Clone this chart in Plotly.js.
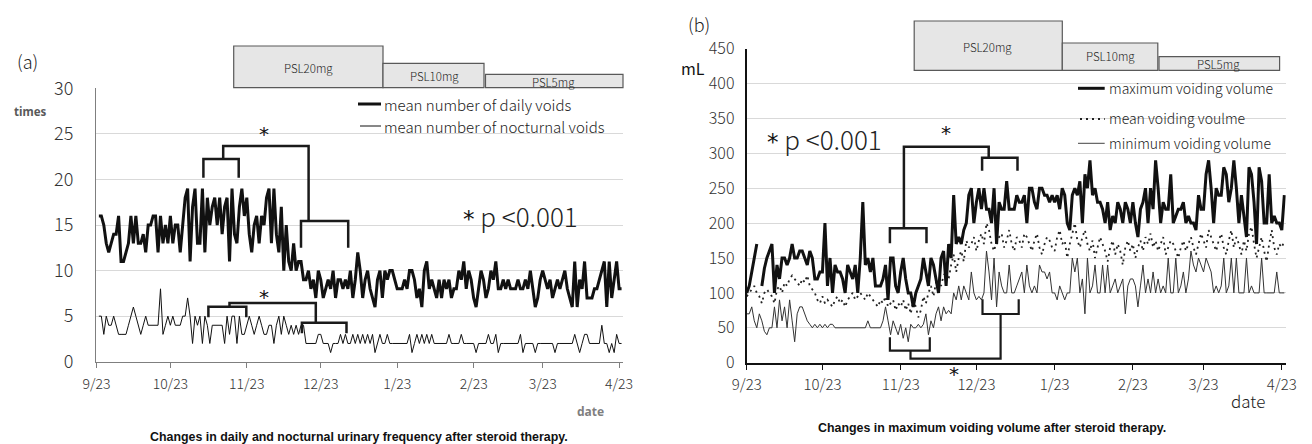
<!DOCTYPE html>
<html><head><meta charset="utf-8">
<script src="https://cdn.plot.ly/plotly-3.0.1.min.js"></script>
<style>html,body{margin:0;padding:0;background:#fff;}#chart{width:1312px;height:444px;}</style>
</head><body><div id="chart"></div>
<script>
// ---------- data ----------
const startLeft = '2021-09-24';   // first day of the left-panel series
const startRight = '2021-09-23';  // first day of the right-panel series
const tickDates = ['2021-09-23','2021-10-23','2021-11-23','2021-12-23','2022-01-23','2022-02-23','2022-03-23','2022-04-23'];
const tickLabels = ['9/23','10/23','11/23','12/23','1/23','2/23','3/23','4/23'];

const dailyVoids = [
16,16,15,13,12,13,14,14,16,11, 11,12,13,16,13,16,13,13,14,12, 15,15,16,16,12,16,13,15,13,16,
13,15,15,12,15,18,19,11,17,19, 13,13,19,12,18,15,17,18,15,18, 14,17,18,11,19,14,13,17,19,16,
18,14,12,15,16,13,16,15,18,19, 13,19,14,12,17,10,15,11,10,13, 10,11,11,9,9,10,8,9,7,10,
9,7,8,9,8,10,7,9,9,8,
9,8,10,7,9,12,10,7,9,10, 8,7,6,9,10,7,10,9,10,10, 9,8,8,8,9,8,10,10,9,7,
8,6,10,11,8,9,8,7,9,7, 9,8,9,7,8,8,10,9,11,8, 10,9,7,6,8,10,9,7,8,10,
9,11,8,8,9,8,9,8,8,8, 9,8,8,9,8,10,8,6,7,9, 10,9,8,9,7,8,9,8,9,10,
8,7,6,11,6,9,8,11,7,7, 7,8,8,9,10,11,6,11,7,9, 11,8,8];

const nocturnalVoids = [
5,5,3,5,4,4,5,4,3,3, 3,3,4,5,6,5,4,3,4,5, 4,4,4,4,4,8,3,4,5,4,
5,4,4,4,5,5,7,5,2,5, 4,5,2,5,4,2,4,4,4,4, 4,2,5,3,5,5,2,5,3,3,
4,5,4,3,4,5,4,3,3,4, 4,2,4,5,3,5,4,3,4,3, 4,3,4,4,
2,2,2,2,2,3,3,2,2,2, 1,2,2,2,3,2,3,2,2,3, 2,3,2,3,2,3,2,3,1,2,
3,2,2,3,2,2,2,2,2,2, 2,2,3,1,2,3,2,3,2,3, 2,3,2,2,2,2,2,2,3,2,
2,2,2,3,2,2,2,2,2,1, 2,2,2,2,3,2,2,3,1,2, 2,2,2,2,2,2,2,3,1,2,
2,2,2,1,2,2,2,2,2,2, 2,1,2,2,2,2,2,2,2,3, 2,1,2,3,3,2,2,2,2,2,
4,2,2,1,2,1,3,2,2];

const maxVolume = [
100,110,130,150,170,null,110,135,150,160, 170,100,140,120,150,150,140,150,170,150,
150,160,160,150,140,160,150,120,120,130, 130,200,110,150,100,140,130,130,120,100,
140,130,120,140,100,150,230,140,150,130, 150,110,110,110,120,140,90,150,150,110,
100,130,150,120,100,100,80,100,110,120, 150,130,110,150,140,120,100,150,160,110,
170,150,240,170,180,170,190,200,240,250, 200,230,250,220,250,220,220,200,250,170,
230,220,220,260,220,220,220,240,230,230, 240,200,250,250,230,220,250,250,240,240,
230,240,230,240,220,250,240,200,190,240, 250,240,260,200,270,250,290,240,250,230,
230,220,200,230,190,210,200,230,220,200, 230,220,200,230,200,180,220,230,250,200,
250,220,290,250,200,230,220,220,270,200, 210,220,220,230,200,210,200,200,190,240,
220,220,270,290,250,200,250,240,240,280, 270,230,250,290,250,200,240,210,180,280,
270,230,170,280,260,200,200,270,200,210, 200,200,190,240];

const meanVolume = [
95,100,105,110,100,95,85,100,105,100, 95,85,105,110,100,115,110,120,125,120,
115,110,120,115,125,110,105,100,90,85, 95,85,90,85,80,90,95,85,90,80,
90,95,100,90,95,100,95,90,100,95, 90,85,80,90,85,95,80,85,90,75,
85,80,90,75,85,70,90,80,65,75, 95,85,100,110,95,115,120,110,125,130,
120,140,155,130,150,160,145,175,165,170, 180,160,175,185,170,200,190,170,160,175,
180,185,165,175,190,170,160,180,175,165, 185,180,170,160,175,185,165,155,170,180,
175,165,160,180,190,170,175,150,170,185, 200,175,165,180,190,170,160,175,150,165,
180,170,160,145,165,175,155,170,160,140, 165,175,160,170,150,165,175,160,180,170,
185,165,175,160,170,180,155,165,175,170, 160,150,165,175,160,170,180,165,155,170,
185,175,165,190,180,170,160,175,185,165, 155,175,190,165,180,170,155,175,160,185,
195,170,150,165,180,160,145,170,190,165, 155,170,165,175];

const minVolume = [
70,70,80,60,50,70,60,45,40,50, 50,80,50,90,60,80,50,90,60,30,
70,80,80,70,60,55,50,55,50,55, 50,55,50,55,55,50,50,50,50,50,
50,50,50,50,50,50,50,50,60,50, 50,50,50,50,60,80,60,40,60,50,
40,55,35,50,30,55,50,50,55,50, 55,70,40,60,50,70,80,60,80,70,
75,70,100,90,110,90,110,100,90,130, 100,90,95,90,100,160,130,90,150,80,
130,110,100,100,140,100,100,110,120,130, 100,140,110,100,110,100,140,130,130,120,
130,100,100,90,110,100,90,100,100,150, 130,150,100,120,70,150,100,110,140,100,
100,140,100,140,100,110,120,100,110,120, 70,110,120,120,110,80,110,140,100,120,
100,130,100,120,100,110,100,150,100,100, 150,100,110,130,100,120,160,140,130,150,
140,130,150,140,130,100,110,100,110,150, 100,110,150,100,150,100,100,100,150,100,
110,100,100,100,150,100,100,100,100,100, 130,100,100,100];

// ---------- helpers (pixel -> paper) ----------
const W = 1312, H = 444;
const px = x => x / W;
const py = y => 1 - y / H;
const light = '"Noto Sans CJK JP", "Noto Sans", sans-serif';
const starFont = '"DejaVu Sans", "Noto Sans", sans-serif';
const DAY = 86400000;
const dotDash = '2px,4px';

function pathOf(pts) {
  return pts.map((p, i) => (i ? 'L ' : 'M ') + px(p[0]).toFixed(5) + ' ' + py(p[1]).toFixed(5)).join(' ');
}
function bracket(pts, w) {
  return {type: 'path', xref: 'paper', yref: 'paper', path: pathOf(pts),
          line: {color: '#1a1a1a', width: w || 2.5}, layer: 'above'};
}
function seg(x0, y0, x1, y1, w, color, dash) {
  return {type: 'line', xref: 'paper', yref: 'paper', x0: px(x0), y0: py(y0), x1: px(x1), y1: py(y1),
          line: {color: color || '#111', width: w, dash: dash || 'solid'}, layer: 'above'};
}
function box(x0, y0, x1, y1) {
  return {type: 'rect', xref: 'paper', yref: 'paper', x0: px(x0), y0: py(y1), x1: px(x1), y1: py(y0),
          fillcolor: '#e6e6e6', line: {color: '#595959', width: 1.2}, layer: 'above'};
}
function txt(x, y, text, size, opts) {
  opts = opts || {};
  return Object.assign({xref: 'paper', yref: 'paper', x: px(x), y: py(y), text: text, showarrow: false,
          xanchor: 'center', yanchor: 'middle',
          font: {family: opts.family || light, size: size, color: opts.color || '#222', weight: opts.weight || 300}},
          opts.extra || {});
}
const pText = '<span style="font-family:\'DejaVu Sans\';font-size:23px;color:#111;font-weight:400">*</span> p <0.001';

// ---------- traces ----------
const traces = [
  {type: 'scatter', mode: 'lines', x0: startLeft, dx: DAY, y: dailyVoids, xaxis: 'x', yaxis: 'y',
   line: {color: '#111', width: 3}, name: 'mean number of daily voids', showlegend: false},
  {type: 'scatter', mode: 'lines', x0: startLeft, dx: DAY, y: nocturnalVoids, xaxis: 'x', yaxis: 'y',
   line: {color: '#111', width: 1}, name: 'mean number of nocturnal voids', showlegend: false},
  {type: 'scatter', mode: 'lines', x0: startRight, dx: DAY, y: meanVolume, xaxis: 'x2', yaxis: 'y2',
   line: {color: '#222', width: 1.8, dash: dotDash}, name: 'mean voiding voulme', showlegend: false},
  {type: 'scatter', mode: 'lines', x0: startRight, dx: DAY, y: minVolume, xaxis: 'x2', yaxis: 'y2',
   line: {color: '#333', width: 1}, name: 'minimum voiding volume', showlegend: false},
  {type: 'scatter', mode: 'lines', x0: startRight, dx: DAY, y: maxVolume, xaxis: 'x2', yaxis: 'y2',
   line: {color: '#111', width: 3}, connectgaps: false, name: 'maximum voiding volume', showlegend: false}
];

const xCommon = {type: 'date', tickmode: 'array', tickvals: tickDates, ticktext: tickLabels,
  showgrid: false, zeroline: false, showline: true, ticks: 'outside', ticklen: 5, fixedrange: true};

const layout = {
  width: W, height: H, margin: {l: 0, r: 0, t: 0, b: 0}, paper_bgcolor: '#fff', plot_bgcolor: '#fff',
  showlegend: false,
  xaxis: Object.assign({}, xCommon, {domain: [px(96.4), px(623)], anchor: 'y',
    range: ['2021-09-23', '2022-04-24 14:00'], linecolor: '#7f7f7f', linewidth: 1.5, tickcolor: '#7f7f7f',
    tickfont: {family: light, size: 14, color: '#333', weight: 300}, ticklabelstandoff: 4}),
  yaxis: {domain: [1 - 361.7 / H, 1 - 88.4 / H], anchor: 'x', range: [0, 30], dtick: 5, tick0: 0,
    showgrid: true, gridcolor: '#d9d9d9', gridwidth: 1, zeroline: false, showline: true,
    linecolor: '#7f7f7f', linewidth: 1.5, ticks: '', ticklabelstandoff: 18,
    tickfont: {family: light, size: 18, color: '#333', weight: 300}, fixedrange: true},
  xaxis2: Object.assign({}, xCommon, {domain: [px(746.7), px(1285.8)], anchor: 'y2',
    range: ['2021-09-23', '2022-04-24 14:00'], linecolor: '#111', linewidth: 2, tickcolor: '#111',
    tickfont: {family: light, size: 15, color: '#333', weight: 300}, ticklabelstandoff: 2}),
  yaxis2: {domain: [1 - 362.7 / H, 1 - 48.6 / H], anchor: 'x2', range: [0, 450], dtick: 50, tick0: 0,
    showgrid: true, gridcolor: '#d9d9d9', gridwidth: 1, zeroline: false, showline: true,
    linecolor: '#111', linewidth: 2, ticks: '', ticklabelstandoff: 7,
    tickfont: {family: light, size: 16, color: '#333', weight: 300}, fixedrange: true},
  shapes: [
    // left: PSL boxes
    box(233.7, 46, 383, 87.7), box(383, 63.3, 484, 87.7), box(485.5, 74.3, 623, 87.7),
    // right: PSL boxes
    box(914.2, 21, 1062.3, 70.3), box(1062.3, 43, 1157.8, 70.3), box(1159, 56.7, 1279.6, 70.3),
    // left legend samples
    seg(358, 104, 381, 104, 3), seg(360, 126, 381, 126, 1),
    // right legend samples
    seg(1078, 88.3, 1104.7, 88.3, 3), seg(1080, 119, 1104.7, 119, 1.8, '#222', dotDash),
    seg(1078, 143.3, 1104.7, 143.3, 1, '#444'),
    // left daily-voids brackets
    bracket([[203.4,177.7],[203.4,159],[238.7,159],[238.7,177.7]]),
    bracket([[223.2,159],[223.2,146],[308.6,146],[308.6,221]]),
    bracket([[301,247.7],[301,221],[348.2,221],[348.2,247.7]]),
    // left nocturnal brackets
    bracket([[208.4,317.3],[208.4,306.7],[246.3,306.7],[246.3,317.3]]),
    bracket([[229.5,306.7],[229.5,303],[315.8,303],[315.8,322.7]]),
    bracket([[301.9,333.3],[301.9,322.7],[346.5,322.7],[346.5,333.3]]),
    // right maximum-volume brackets
    bracket([[903.9,228.3],[903.9,146.7],[988.7,146.7],[988.7,157.7]]),
    bracket([[889.9,243.3],[889.9,228.3],[926.5,228.3],[926.5,243.3]]),
    bracket([[982.1,170.7],[982.1,157.7],[1017.5,157.7],[1017.5,170.7]]),
    // right minimum-volume brackets
    bracket([[889.9,337.3],[889.9,350.7],[929.8,350.7],[929.8,337.3]], 2.2),
    bracket([[910.5,350.7],[910.5,358.7],[1000.6,358.7],[1000.6,314]], 2.2),
    bracket([[982.5,299.3],[982.5,314],[1018.7,314],[1018.7,299.3]], 2.2)
  ],
  annotations: [
    txt(27, 61, '(a)', 18),
    txt(30, 112, 'times', 11.5, {family: '"Noto Sans", sans-serif', weight: 700, color: '#595959'}),
    txt(308.6, 68.3, 'PSL20mg', 11.5),
    txt(434.5, 75.5, 'PSL10mg', 11.5),
    txt(553.7, 81.5, 'PSL5mg', 11.5),
    txt(382.3, 104, 'mean number of daily voids', 15, {extra: {xanchor: 'left'}}),
    txt(382.3, 126, 'mean number of nocturnal voids', 15, {extra: {xanchor: 'left'}}),
    txt(264, 134, '*', 20, {family: starFont, weight: 400, color: '#111'}),
    txt(264.4, 297, '*', 20, {family: starFont, weight: 400, color: '#111'}),
    txt(461, 215, pText, 26, {extra: {xanchor: 'left'}}),
    txt(590, 411.7, 'date', 12, {family: '"Noto Sans", sans-serif', weight: 700, color: '#7f7f7f'}),
    txt(359, 437, 'Changes in daily and nocturnal urinary frequency after steroid therapy.', 12.4,
        {family: '"Liberation Sans", Arial, sans-serif', weight: 700, color: '#111'}),
    txt(699.4, 24, '(b)', 18),
    txt(693.2, 68.3, 'mL', 16, {color: '#111', weight: 400}),
    txt(987.4, 46.7, 'PSL20mg', 11.5),
    txt(1110, 56.5, 'PSL10mg', 11.5),
    txt(1218.7, 63.5, 'PSL5mg', 11.5),
    txt(1106.8, 88.3, 'maximum voiding volume', 14, {extra: {xanchor: 'left'}}),
    txt(1106.8, 118.3, 'mean voiding voulme', 14, {extra: {xanchor: 'left'}}),
    txt(1106.8, 143.3, 'minimum voiding volume', 14, {extra: {xanchor: 'left'}}),
    txt(945.5, 133, '*', 20, {family: starFont, weight: 400, color: '#111'}),
    txt(953.7, 374, '*', 20, {family: starFont, weight: 400, color: '#111'}),
    txt(765.3, 138.3, pText, 26, {extra: {xanchor: 'left'}}),
    txt(1248, 400, 'date', 17, {color: '#222'}),
    txt(991.5, 428.3, 'Changes in maximum voiding volume after steroid therapy.', 12.4,
        {family: '"Liberation Sans", Arial, sans-serif', weight: 700, color: '#111'})
  ]
};

Plotly.newPlot('chart', traces, layout, {staticPlot: true, displayModeBar: false});
</script>
</body></html>
